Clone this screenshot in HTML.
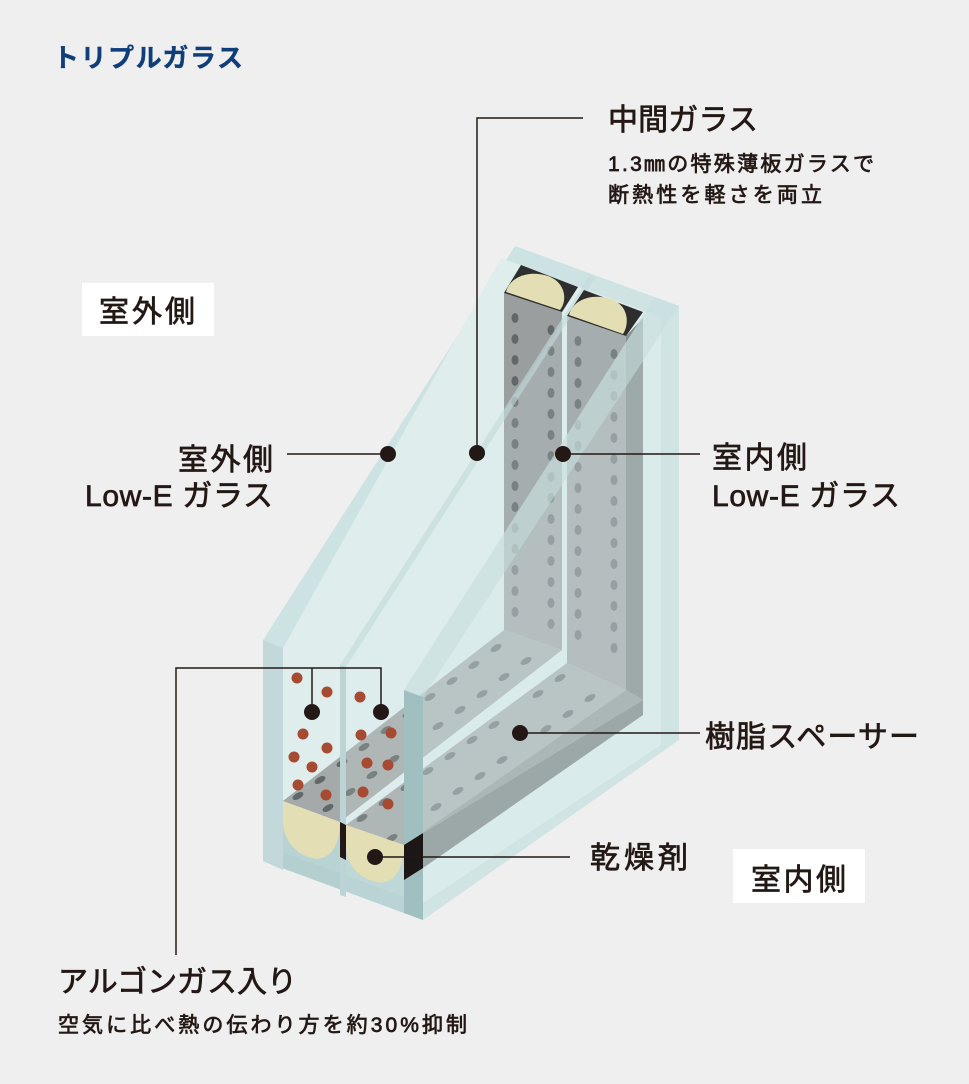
<!DOCTYPE html>
<html><head><meta charset="utf-8"><style>
html,body{margin:0;padding:0;background:#efefef;}
svg{display:block;}
text{font-family:"Liberation Sans","Noto Sans CJK JP",sans-serif;fill:#231815;stroke:#231815;stroke-width:0.7;}
</style></head><body>
<svg width="969" height="1084" viewBox="0 0 969 1084" xmlns="http://www.w3.org/2000/svg">
<rect width="969" height="1084" fill="#efefef"/>
<text x="53" y="67" font-size="26" font-weight="bold" style="fill:#0f3e7a;stroke:#0f3e7a;stroke-width:0.3" textLength="190">トリプルガラス</text>

<!-- glass silhouette -->
<polygon points="263,640 515,246 679,306 679,740 423,920 263,861" fill="#cde2e2"/>
<polygon points="283,648 501,258 661,317 661,745 423,903 283,852" fill="#dfeded"/>
<polygon points="263,861 283,852 423,903 423,920" fill="#b3cfd0"/>
<polygon points="283,852 283,800 423,860 423,903" fill="#b8d3d3"/>
<polygon points="263,640 283,648 283,870 263,861" fill="#c2d8da"/>

<!-- spacer 1 -->
<polygon points="504,293 562,312 562,650 504,630" fill="#9a9e9f"/>
<polygon points="283,801 340,822 562,650 504,630" fill="#a4a9a9"/>

<!-- spacer 2 -->
<polygon points="567,316 626,336 626,690 567,663" fill="#9a9e9f"/>
<polygon points="626,336 643,318 643,700 626,690" fill="#737a79"/>
<polygon points="346,825 404,845 626,690 567,663" fill="#a4a9a9"/>
<polygon points="404,845 423,833 643,700 626,690" fill="#8b9191"/>
<polygon points="423,833 643,700 643,715 423,868" fill="#6f7675"/>

<!-- spacer dots -->
<g fill="#62686a">
<ellipse cx="515" cy="318" rx="3.5" ry="5"/><ellipse cx="515" cy="339" rx="3.5" ry="5"/><ellipse cx="515" cy="360" rx="3.5" ry="5"/><ellipse cx="515" cy="381" rx="3.5" ry="5"/><ellipse cx="515" cy="402" rx="3.5" ry="5"/><ellipse cx="515" cy="423" rx="3.5" ry="5"/><ellipse cx="515" cy="444" rx="3.5" ry="5"/><ellipse cx="515" cy="465" rx="3.5" ry="5"/><ellipse cx="515" cy="486" rx="3.5" ry="5"/><ellipse cx="515" cy="507" rx="3.5" ry="5"/><ellipse cx="515" cy="528" rx="3.5" ry="5"/><ellipse cx="515" cy="549" rx="3.5" ry="5"/><ellipse cx="515" cy="570" rx="3.5" ry="5"/><ellipse cx="515" cy="591" rx="3.5" ry="5"/><ellipse cx="515" cy="612" rx="3.5" ry="5"/>
<ellipse cx="551" cy="330" rx="3.5" ry="5"/><ellipse cx="551" cy="351" rx="3.5" ry="5"/><ellipse cx="551" cy="372" rx="3.5" ry="5"/><ellipse cx="551" cy="393" rx="3.5" ry="5"/><ellipse cx="551" cy="414" rx="3.5" ry="5"/><ellipse cx="551" cy="435" rx="3.5" ry="5"/><ellipse cx="551" cy="456" rx="3.5" ry="5"/><ellipse cx="551" cy="477" rx="3.5" ry="5"/><ellipse cx="551" cy="498" rx="3.5" ry="5"/><ellipse cx="551" cy="519" rx="3.5" ry="5"/><ellipse cx="551" cy="540" rx="3.5" ry="5"/><ellipse cx="551" cy="561" rx="3.5" ry="5"/><ellipse cx="551" cy="582" rx="3.5" ry="5"/><ellipse cx="551" cy="603" rx="3.5" ry="5"/><ellipse cx="551" cy="624" rx="3.5" ry="5"/>
<ellipse cx="578" cy="341" rx="3.5" ry="5"/><ellipse cx="578" cy="362" rx="3.5" ry="5"/><ellipse cx="578" cy="383" rx="3.5" ry="5"/><ellipse cx="578" cy="404" rx="3.5" ry="5"/><ellipse cx="578" cy="425" rx="3.5" ry="5"/><ellipse cx="578" cy="446" rx="3.5" ry="5"/><ellipse cx="578" cy="467" rx="3.5" ry="5"/><ellipse cx="578" cy="488" rx="3.5" ry="5"/><ellipse cx="578" cy="509" rx="3.5" ry="5"/><ellipse cx="578" cy="530" rx="3.5" ry="5"/><ellipse cx="578" cy="551" rx="3.5" ry="5"/><ellipse cx="578" cy="572" rx="3.5" ry="5"/><ellipse cx="578" cy="593" rx="3.5" ry="5"/><ellipse cx="578" cy="614" rx="3.5" ry="5"/><ellipse cx="578" cy="635" rx="3.5" ry="5"/>
<ellipse cx="614" cy="354" rx="3.5" ry="5"/><ellipse cx="614" cy="375" rx="3.5" ry="5"/><ellipse cx="614" cy="396" rx="3.5" ry="5"/><ellipse cx="614" cy="417" rx="3.5" ry="5"/><ellipse cx="614" cy="438" rx="3.5" ry="5"/><ellipse cx="614" cy="459" rx="3.5" ry="5"/><ellipse cx="614" cy="480" rx="3.5" ry="5"/><ellipse cx="614" cy="501" rx="3.5" ry="5"/><ellipse cx="614" cy="522" rx="3.5" ry="5"/><ellipse cx="614" cy="543" rx="3.5" ry="5"/><ellipse cx="614" cy="564" rx="3.5" ry="5"/><ellipse cx="614" cy="585" rx="3.5" ry="5"/><ellipse cx="614" cy="606" rx="3.5" ry="5"/><ellipse cx="614" cy="627" rx="3.5" ry="5"/><ellipse cx="614" cy="648" rx="3.5" ry="5"/>
</g>
<g fill="#62686a">
<ellipse cx="362" cy="818" rx="6" ry="3" transform="rotate(-30 362 818)"/><ellipse cx="384" cy="802" rx="6" ry="3" transform="rotate(-30 384 802)"/><ellipse cx="406" cy="787" rx="6" ry="3" transform="rotate(-30 406 787)"/><ellipse cx="428" cy="771" rx="6" ry="3" transform="rotate(-30 428 771)"/><ellipse cx="450" cy="756" rx="6" ry="3" transform="rotate(-30 450 756)"/><ellipse cx="472" cy="740" rx="6" ry="3" transform="rotate(-30 472 740)"/><ellipse cx="494" cy="725" rx="6" ry="3" transform="rotate(-30 494 725)"/><ellipse cx="538" cy="694" rx="6" ry="3" transform="rotate(-30 538 694)"/><ellipse cx="560" cy="678" rx="6" ry="3" transform="rotate(-30 560 678)"/>
<ellipse cx="392" cy="838" rx="6" ry="3" transform="rotate(-30 392 838)"/><ellipse cx="414" cy="822" rx="6" ry="3" transform="rotate(-30 414 822)"/><ellipse cx="436" cy="807" rx="6" ry="3" transform="rotate(-30 436 807)"/><ellipse cx="458" cy="791" rx="6" ry="3" transform="rotate(-30 458 791)"/><ellipse cx="480" cy="776" rx="6" ry="3" transform="rotate(-30 480 776)"/><ellipse cx="502" cy="760" rx="6" ry="3" transform="rotate(-30 502 760)"/><ellipse cx="546" cy="729" rx="6" ry="3" transform="rotate(-30 546 729)"/><ellipse cx="568" cy="714" rx="6" ry="3" transform="rotate(-30 568 714)"/><ellipse cx="590" cy="698" rx="6" ry="3" transform="rotate(-30 590 698)"/>
<ellipse cx="298" cy="796" rx="6" ry="3" transform="rotate(-30 298 796)"/><ellipse cx="320" cy="780" rx="6" ry="3" transform="rotate(-30 320 780)"/><ellipse cx="342" cy="763" rx="6" ry="3" transform="rotate(-30 342 763)"/><ellipse cx="364" cy="747" rx="6" ry="3" transform="rotate(-30 364 747)"/><ellipse cx="386" cy="730" rx="6" ry="3" transform="rotate(-30 386 730)"/><ellipse cx="408" cy="714" rx="6" ry="3" transform="rotate(-30 408 714)"/><ellipse cx="430" cy="697" rx="6" ry="3" transform="rotate(-30 430 697)"/><ellipse cx="452" cy="681" rx="6" ry="3" transform="rotate(-30 452 681)"/><ellipse cx="474" cy="665" rx="6" ry="3" transform="rotate(-30 474 665)"/><ellipse cx="496" cy="648" rx="6" ry="3" transform="rotate(-30 496 648)"/>
<ellipse cx="328" cy="808" rx="6" ry="3" transform="rotate(-30 328 808)"/><ellipse cx="350" cy="792" rx="6" ry="3" transform="rotate(-30 350 792)"/><ellipse cx="372" cy="775" rx="6" ry="3" transform="rotate(-30 372 775)"/><ellipse cx="394" cy="759" rx="6" ry="3" transform="rotate(-30 394 759)"/><ellipse cx="416" cy="743" rx="6" ry="3" transform="rotate(-30 416 743)"/><ellipse cx="438" cy="726" rx="6" ry="3" transform="rotate(-30 438 726)"/><ellipse cx="460" cy="710" rx="6" ry="3" transform="rotate(-30 460 710)"/><ellipse cx="482" cy="694" rx="6" ry="3" transform="rotate(-30 482 694)"/><ellipse cx="504" cy="677" rx="6" ry="3" transform="rotate(-30 504 677)"/><ellipse cx="526" cy="661" rx="6" ry="3" transform="rotate(-30 526 661)"/>
</g>

<!-- middle pane overlay -->
<polygon points="340,665 593,275 679,306 679,740 423,920 340,890" fill="#d7eaea" fill-opacity="0.2"/>
<polygon points="340,665 346,667 346,897 340,895" fill="#bcd4d5"/>
<polygon points="340,665 346,667 596,277 590,275" fill="#c3dada" fill-opacity="0.6"/>
<!-- indoor pane overlay -->
<polygon points="404,690 655,297 679,306 679,740 423,920 404,913" fill="#d3e8e8" fill-opacity="0.3"/>
<polygon points="404,690 423,697 423,920 404,913" fill="#9fbfc1"/>
<polygon points="404,690 423,697 679,306 655,297" fill="#c6dddd" fill-opacity="0.55"/>

<!-- caps on top -->
<polygon points="521,265 578,287 562,312 504,293" fill="#2e2e2e"/>
<path d="M506,292 C510,276 530,270 548,276 C565,282 568,300 560,310 Z" fill="#e4deb4"/>
<polygon points="584,290 643,312 626,336 567,316" fill="#2e2e2e"/>
<path d="M569,315 C573,299 593,293 611,299 C628,305 630,323 623,334 Z" fill="#e4deb4"/>
<path d="M283,801 L340,822 C340,845 330,862 312,858 C295,854 283,840 283,820 Z" fill="#e4deb4"/>
<polygon points="340,822 346,825 346,860 340,857" fill="#231815"/>
<path d="M346,825 L404,845 C404,868 394,886 376,882 C358,878 346,864 346,845 Z" fill="#e4deb4"/>
<polygon points="404,845 423,833 423,868 404,880" fill="#1c1716"/>

<!-- argon dots -->
<g fill="#a64a32">
<circle cx="297" cy="678" r="5.5"/><circle cx="327" cy="692" r="5.5"/><circle cx="303" cy="734" r="5.5"/><circle cx="327" cy="748" r="5.5"/><circle cx="294" cy="757" r="5.5"/><circle cx="312" cy="767" r="5.5"/><circle cx="298" cy="785" r="5.5"/><circle cx="326" cy="795" r="5.5"/><circle cx="360" cy="697" r="5.5"/><circle cx="361" cy="735" r="5.5"/><circle cx="391" cy="733" r="5.5"/><circle cx="367" cy="763" r="5.5"/><circle cx="388" cy="765" r="5.5"/><circle cx="363" cy="792" r="5.5"/><circle cx="388" cy="804" r="5.5"/>
</g>

<!-- leader lines -->
<g stroke="#231815" stroke-width="1.5" fill="none">
<polyline points="583,118 477,118 477,453"/>
<line x1="287" y1="454" x2="388" y2="454"/>
<line x1="563" y1="454" x2="700" y2="454"/>
<line x1="520" y1="733" x2="700" y2="733"/>
<line x1="378" y1="857" x2="570" y2="857"/>
<polyline points="176,955 176,668 381,668 381,712"/>
<line x1="312" y1="668" x2="312" y2="712"/>
</g>
<g fill="#231815">
<circle cx="388" cy="454" r="8"/><circle cx="477" cy="453" r="8"/><circle cx="563" cy="454" r="8"/>
<circle cx="520" cy="733" r="8"/><circle cx="375" cy="857" r="8"/>
<circle cx="312" cy="712" r="8"/><circle cx="381" cy="712" r="8"/>
</g>

<!-- labels -->
<text x="608" y="130" font-size="30" textLength="150">中間ガラス</text>
<text x="608" y="171" font-size="21" textLength="266">1.3㎜の特殊薄板ガラスで</text>
<text x="608" y="202" font-size="21" textLength="214">断熱性を軽さを両立</text>

<rect x="82" y="283" width="132" height="53" fill="#ffffff"/>
<text x="99" y="322" font-size="30" textLength="96">室外側</text>
<text x="178" y="470" font-size="30" textLength="95">室外側</text>
<text x="85" y="506" font-size="30" textLength="188">Low-E ガラス</text>

<text x="712" y="468" font-size="30" textLength="95">室内側</text>
<text x="712" y="506" font-size="30" textLength="188">Low-E ガラス</text>

<text x="705" y="747" font-size="30" textLength="214">樹脂スペーサー</text>
<text x="590" y="868" font-size="30" textLength="98">乾燥剤</text>

<rect x="733" y="849" width="132" height="54" fill="#ffffff"/>
<text x="751" y="890" font-size="30" textLength="95">室内側</text>

<text x="58" y="992" font-size="30" textLength="239">アルゴンガス入り</text>
<text x="58" y="1032" font-size="21" textLength="409">空気に比べ熱の伝わり方を約30%抑制</text>
</svg>
</body></html>
